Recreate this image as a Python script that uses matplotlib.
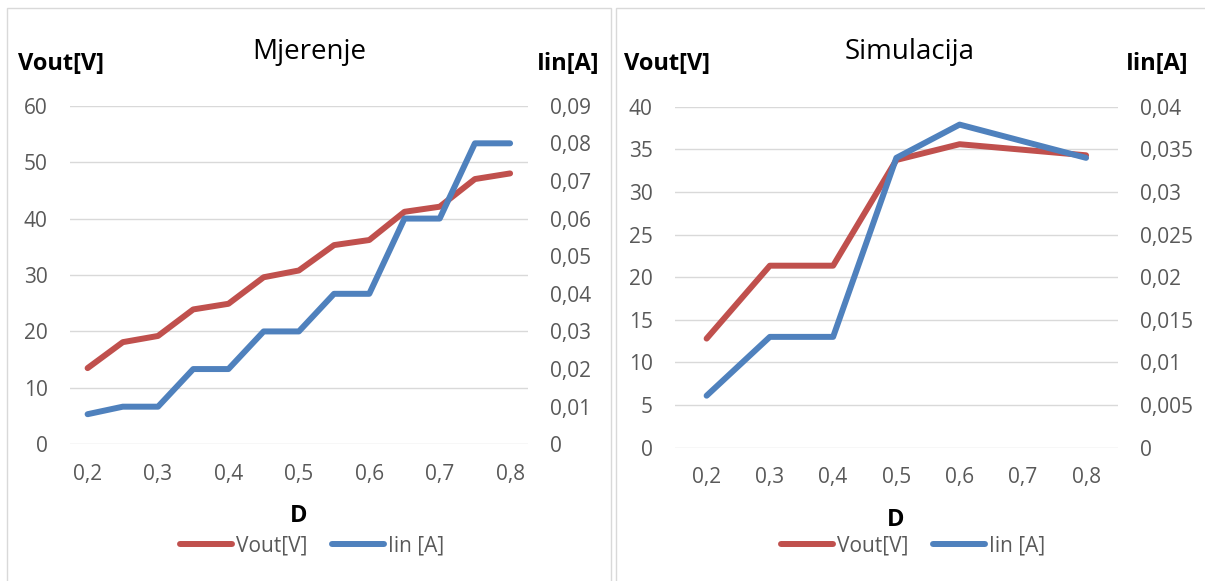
import matplotlib
matplotlib.use("Agg")
import matplotlib.pyplot as plt
from matplotlib.patches import Rectangle
from matplotlib.lines import Line2D
from matplotlib.ticker import FuncFormatter, MultipleLocator

# ---------------- data ----------------
d_mjerenje = [0.2, 0.25, 0.3, 0.35, 0.4, 0.45, 0.5, 0.55, 0.6, 0.65, 0.7, 0.75, 0.8]
vout_mjerenje = [13.5, 18.1, 19.2, 23.9, 24.9, 29.6, 30.8, 35.3, 36.2, 41.2, 42.1, 47.0, 48.0]
iin_mjerenje = [0.008, 0.010, 0.010, 0.020, 0.020, 0.030, 0.030, 0.040, 0.040, 0.060, 0.060, 0.080, 0.080]

d_simulacija = [0.2, 0.3, 0.4, 0.5, 0.6, 0.8]
vout_simulacija = [12.8, 21.35, 21.35, 33.75, 35.6, 34.3]
iin_simulacija = [0.0061, 0.013, 0.013, 0.034, 0.0379, 0.034]

x_ticks = [0.2, 0.3, 0.4, 0.5, 0.6, 0.7, 0.8]
titles = ["Mjerenje", "Simulacija"]
series_names = ["Vout[V]", "Iin [A]"]
left_axis_title = "Vout[V]"
right_axis_title = "Iin[A]"
x_axis_title = "D"

# ---------------- style ----------------
W, H = 1205, 581
FONT = "Open Sans"
plt.rcParams["font.family"] = [FONT, "DejaVu Sans"]
RED = "#C0504D"
BLUE = "#4F81BD"
GRID = "#D9D9D9"
TICKC = "#595959"
LW = 4.3

fig = plt.figure(figsize=(W / 100, H / 100), dpi=100)


def fx(px):
    return px / W


def fy(py):
    return 1 - py / H


def comma(v, pos=None):
    s = f"{round(v, 5):g}"
    return s.replace(".", ",")


# boxes
for (x0, x1) in [(7.3, 610.7), (616, 1210)]:
    fig.patches.append(Rectangle((fx(x0), fy(600)), fx(x1) - fx(x0), fy(8) - fy(600),
                                 transform=fig.transFigure, fill=False,
                                 edgecolor=GRID, linewidth=1.0, zorder=0))

panels = [
    dict(rect=(70, 105.7, 527.7, 444.3), xlim=(0.175, 0.825), ylim=(0, 60), ystep=10,
         y2lim=(0, 0.09), y2step=0.01, d=d_mjerenje, v=vout_mjerenje, i=iin_mjerenje,
         title=titles[0], title_cx=309, vx=18, ix=599, d_cx=299, d_base=522,
         leg_cx=312),
    dict(rect=(675, 106.7, 1117.7, 447.7), xlim=(0.15, 0.85), ylim=(0, 40), ystep=5,
         y2lim=(0, 0.04), y2step=0.005, d=d_simulacija, v=vout_simulacija, i=iin_simulacija,
         title=titles[1], title_cx=910, vx=624, ix=1188, d_cx=896, d_base=526,
         leg_cx=913),
]

for p in panels:
    l, t, r, b = p["rect"]
    ax = fig.add_axes([fx(l), fy(b), fx(r) - fx(l), fy(t) - fy(b)])
    ax2 = ax.twinx()
    ax.plot(p["d"], p["v"], color=RED, lw=LW, solid_capstyle="round",
            solid_joinstyle="round", clip_on=False, zorder=3)
    ax2.plot(p["d"], p["i"], color=BLUE, lw=LW, solid_capstyle="round",
             solid_joinstyle="round", clip_on=False, zorder=3)
    ax.set_xlim(*p["xlim"])
    ax.set_ylim(*p["ylim"])
    ax2.set_ylim(*p["y2lim"])
    ax.yaxis.set_major_locator(MultipleLocator(p["ystep"]))
    ax2.yaxis.set_major_locator(MultipleLocator(p["y2step"]))
    ax.set_xticks(x_ticks)
    ax.xaxis.set_major_formatter(FuncFormatter(comma))
    ax.yaxis.set_major_formatter(FuncFormatter(comma))
    ax2.yaxis.set_major_formatter(FuncFormatter(comma))
    ax.grid(axis="y", color=GRID, lw=1.0)
    ax.set_axisbelow(True)
    for a in (ax, ax2):
        for s in a.spines.values():
            s.set_visible(False)
        a.tick_params(length=0, labelsize=15, labelcolor=TICKC)
    ax.tick_params(axis="y", pad=16)
    ax2.tick_params(axis="y", pad=16)
    ax.tick_params(axis="x", pad=14)
    ax.patch.set_visible(False)

    fig.text(fx(p["title_cx"]), fy(59.3), p["title"], ha="center", va="baseline",
             fontsize=20, color="black")
    fig.text(fx(p["vx"]), fy(70), left_axis_title, ha="left", va="baseline",
             fontsize=17, fontweight="bold", color="black")
    fig.text(fx(p["ix"]), fy(70), right_axis_title, ha="right", va="baseline",
             fontsize=17, fontweight="bold", color="black")
    fig.text(fx(p["d_cx"]), fy(p["d_base"]), x_axis_title, ha="center", va="baseline",
             fontsize=17, fontweight="bold", color="black")

    handles = [Line2D([], [], color=RED, lw=LW, solid_capstyle="round"),
               Line2D([], [], color=BLUE, lw=LW, solid_capstyle="round")]
    fig.legend(handles, series_names, loc="center", bbox_to_anchor=(fx(p["leg_cx"]), fy(546)),
               ncol=2, frameon=False, fontsize=15, labelcolor=TICKC,
               handlelength=2.5, handletextpad=0.2, columnspacing=1.2,
               borderpad=0, borderaxespad=0)

fig.savefig("out.png", dpi=100)
